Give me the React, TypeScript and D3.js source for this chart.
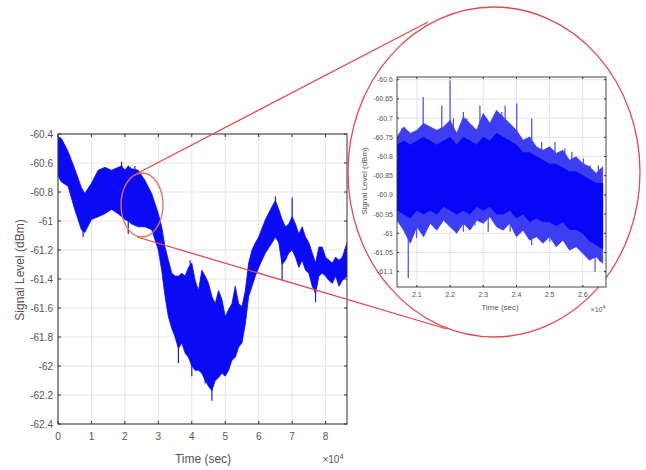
import React, { useRef, useEffect } from 'react';
import * as d3 from 'd3';

// main trace: time in units of 1e4 s, upper / lower envelope of the noisy signal (dBm)
const mainTime = [0, 0.1, 0.3, 0.5, 0.7, 0.8, 1.0, 1.2, 1.4, 1.6, 1.8, 1.9, 2.0, 2.1, 2.2, 2.4, 2.6, 2.8,
  3.0, 3.1, 3.2, 3.3, 3.4, 3.5, 3.6, 3.7, 3.8, 3.9, 4.0, 4.1, 4.2, 4.3, 4.4, 4.5, 4.6, 4.7, 4.8, 4.9,
  5.0, 5.1, 5.2, 5.3, 5.4, 5.5, 5.6, 5.7, 5.8, 5.9, 6.0, 6.2, 6.4, 6.5, 6.6, 6.7, 6.8, 6.9,
  7.0, 7.1, 7.2, 7.3, 7.4, 7.5, 7.6, 7.7, 7.8, 7.9, 8.0, 8.1, 8.2, 8.3, 8.4, 8.5, 8.64];
const mainHigh = [-60.42, -60.43, -60.52, -60.64, -60.77, -60.81, -60.74, -60.65, -60.63, -60.65, -60.63, -60.62, -60.65, -60.62, -60.64, -60.65, -60.72, -60.81,
  -60.95, -61.04, -61.18, -61.27, -61.36, -61.38, -61.38, -61.36, -61.38, -61.32, -61.29, -61.41, -61.48, -61.34, -61.38, -61.43, -61.52, -61.57, -61.48, -61.54,
  -61.66, -61.61, -61.57, -61.45, -61.57, -61.59, -61.48, -61.29, -61.2, -61.15, -61.11, -60.99, -60.9, -60.86, -60.92, -60.99, -61.04, -61.02,
  -60.97, -61.02, -61.09, -61.04, -61.11, -61.15, -61.22, -61.29, -61.18, -61.18, -61.25, -61.27, -61.29, -61.25, -61.27, -61.25, -61.15];
const mainLow = [-60.69, -60.73, -60.76, -60.92, -61.06, -61.08, -60.99, -60.97, -60.95, -60.92, -60.95, -60.97, -60.99, -61.0, -61.02, -61.04, -61.04, -61.06,
  -61.2, -61.34, -61.52, -61.66, -61.74, -61.8, -61.88, -61.84, -61.91, -61.94, -62.0, -62.03, -62.03, -62.05, -62.1, -62.14, -62.17, -62.1, -62.08, -62.05,
  -62.07, -62.03, -61.96, -61.94, -61.87, -61.84, -61.71, -61.52, -61.45, -61.38, -61.32, -61.22, -61.15, -61.11, -61.15, -61.3, -61.27, -61.22,
  -61.2, -61.25, -61.32, -61.27, -61.34, -61.36, -61.45, -61.5, -61.38, -61.36, -61.38, -61.41, -61.43, -61.38, -61.45, -61.41, -61.38];
// isolated excursions beyond the envelope [time, dBm]
const mainSpikes = [[0.75, -61.11], [1.9, -60.59], [2.1, -61.09], [2.3, -60.62], [3.6, -61.98], [3.95, -61.27],
  [4.0, -62.07], [4.4, -62.12], [4.6, -62.24], [6.5, -60.83], [6.7, -61.41], [7.0, -60.84], [7.7, -61.56]];
const mainXTicks = [0, 1, 2, 3, 4, 5, 6, 7, 8];
const mainYTicks = [-60.4, -60.6, -60.8, -61, -61.2, -61.4, -61.6, -61.8, -62, -62.2, -62.4];

// zoomed section 2.04e4 .. 2.66e4 s: outer (sparse) envelope and dense core
const zoomTime = [2.04, 2.06, 2.08, 2.1, 2.12, 2.14, 2.16, 2.18, 2.2, 2.22, 2.24, 2.26, 2.28, 2.3, 2.32, 2.34,
  2.36, 2.38, 2.4, 2.42, 2.44, 2.46, 2.48, 2.5, 2.52, 2.54, 2.56, 2.58, 2.6, 2.62, 2.64, 2.66];
const zoomHigh = [-60.749, -60.723, -60.74, -60.732, -60.714, -60.723, -60.732, -60.723, -60.706, -60.74, -60.697, -60.714, -60.732, -60.688, -60.714, -60.68,
  -60.697, -60.714, -60.732, -60.758, -60.749, -60.775, -60.784, -60.775, -60.792, -60.784, -60.81, -60.801, -60.818, -60.827, -60.844, -60.827];
const zoomLow = [-60.966, -60.992, -61.026, -60.983, -61.009, -60.974, -60.992, -60.966, -60.983, -61.0, -60.974, -60.992, -60.966, -60.974, -60.957, -60.983,
  -60.992, -60.974, -61.009, -60.992, -61.018, -61.009, -61.026, -61.009, -61.035, -61.018, -61.044, -61.035, -61.052, -61.07, -61.061, -61.078];
const zoomCoreHigh = [-60.77, -60.76, -60.77, -60.76, -60.75, -60.76, -60.77, -60.76, -60.75, -60.77, -60.75, -60.76, -60.77, -60.75, -60.76, -60.74,
  -60.75, -60.76, -60.77, -60.79, -60.79, -60.8, -60.81, -60.82, -60.82, -60.83, -60.84, -60.84, -60.85, -60.86, -60.87, -60.87];
const zoomCoreLow = [-60.94, -60.95, -60.96, -60.94, -60.95, -60.94, -60.95, -60.93, -60.94, -60.95, -60.94, -60.95, -60.93, -60.94, -60.93, -60.95,
  -60.95, -60.94, -60.96, -60.95, -60.97, -60.96, -60.97, -60.97, -60.98, -60.97, -60.99, -60.99, -61.0, -61.02, -61.03, -61.04];
const zoomSpikes = [
  [2.054, -60.727], [2.079, -60.749], [2.119, -60.645], [2.129, -60.719], [2.175, -60.667], [2.2, -60.602],
  [2.21, -60.701], [2.24, -60.684], [2.25, -60.701], [2.27, -60.727], [2.29, -60.667], [2.3, -60.693],
  [2.32, -60.719], [2.335, -60.701], [2.356, -60.684], [2.366, -60.667], [2.401, -60.662], [2.446, -60.701],
  [2.476, -60.762], [2.516, -60.762], [2.546, -60.779], [2.567, -60.788], [2.602, -60.805], [2.622, -60.823], [2.647, -60.823],
  [2.074, -61.117], [2.099, -61.013], [2.119, -60.979], [2.155, -60.97], [2.185, -60.961], [2.22, -60.996],
  [2.24, -60.996], [2.275, -60.979], [2.315, -60.996], [2.381, -60.996], [2.446, -61.031], [2.501, -61.022],
  [2.551, -61.022], [2.602, -61.039], [2.637, -61.1], [2.652, -61.074]];
const zoomXTicks = [2.1, 2.2, 2.3, 2.4, 2.5, 2.6];
const zoomYTicks = [-60.6, -60.65, -60.7, -60.75, -60.8, -60.85, -60.9, -60.95, -61, -61.05, -61.1];

const fmt = (v) => String(+v.toFixed(2));
const TEXT = '#555';

// one MATLAB-like panel: grid, trace band, spikes, box with inward ticks, labels
function drawPanel(svg, o) {
  const x = d3.scaleLinear().domain(o.xDomain).range([o.left, o.right]);
  const y = d3.scaleLinear().domain(o.yDomain).range([o.bottom, o.top]);
  const g = svg.append('g');

  g.append('rect').attr('x', o.left).attr('y', o.top)
    .attr('width', o.right - o.left).attr('height', o.bottom - o.top).attr('fill', '#fff');

  // grid
  g.selectAll('.gx').data(o.xTicks).enter().append('line')
    .attr('x1', d => x(d)).attr('x2', d => x(d)).attr('y1', o.top).attr('y2', o.bottom)
    .attr('stroke', '#dedede').attr('stroke-width', 0.8);
  g.selectAll('.gy').data(o.yTicks).enter().append('line')
    .attr('y1', d => y(d)).attr('y2', d => y(d)).attr('x1', o.left).attr('x2', o.right)
    .attr('stroke', '#dedede').attr('stroke-width', 0.8);

  const clipId = 'clip-' + o.id;
  svg.append('clipPath').attr('id', clipId).append('rect')
    .attr('x', o.left).attr('y', o.top).attr('width', o.right - o.left).attr('height', o.bottom - o.top);
  const data = g.append('g').attr('clip-path', `url(#${clipId})`);

  const rows = o.time.map((t, i) => ({ t, hi: o.high[i], lo: o.low[i] }));
  const area = d3.area().x(d => x(d.t)).y0(d => y(d.lo)).y1(d => y(d.hi));

  // spikes first so the band covers their roots
  const bis = d3.bisector(d => d.t).left;
  data.selectAll('.spike').data(o.spikes).enter().append('line')
    .attr('x1', d => x(d[0])).attr('x2', d => x(d[0]))
    .attr('y1', d => { const r = rows[Math.min(bis(rows, d[0]), rows.length - 1)]; return y((r.hi + r.lo) / 2); })
    .attr('y2', d => y(d[1]))
    .attr('stroke', o.spikeColor).attr('stroke-width', o.spikeW);

  data.append('path').attr('d', area(rows))
    .attr('fill', o.bandColor).attr('stroke', o.bandColor).attr('stroke-width', 0.8);

  if (o.coreHigh) {
    const core = o.time.map((t, i) => ({ t, hi: o.coreHigh[i], lo: o.coreLow[i] }));
    data.append('path').attr('d', area(core))
      .attr('fill', '#0606f6').attr('stroke', '#0606f6').attr('stroke-width', 0.8);
  }

  // box + inward ticks on all sides
  g.append('rect').attr('x', o.left).attr('y', o.top)
    .attr('width', o.right - o.left).attr('height', o.bottom - o.top)
    .attr('fill', 'none').attr('stroke', '#333').attr('stroke-width', o.boxW);
  const tl = o.tick;
  o.xTicks.forEach(v => {
    g.append('line').attr('x1', x(v)).attr('x2', x(v)).attr('y1', o.bottom).attr('y2', o.bottom - tl).attr('stroke', '#333');
    g.append('line').attr('x1', x(v)).attr('x2', x(v)).attr('y1', o.top).attr('y2', o.top + tl).attr('stroke', '#333');
  });
  o.yTicks.forEach(v => {
    g.append('line').attr('y1', y(v)).attr('y2', y(v)).attr('x1', o.left).attr('x2', o.left + tl).attr('stroke', '#333');
    g.append('line').attr('y1', y(v)).attr('y2', y(v)).attr('x1', o.right).attr('x2', o.right - tl).attr('stroke', '#333');
  });

  const font = '"Liberation Sans", Arial, sans-serif';
  g.selectAll('.xl').data(o.xTicks).enter().append('text')
    .attr('x', d => x(d)).attr('y', o.bottom + o.xLabGap).attr('text-anchor', 'middle')
    .attr('font-family', font).attr('font-size', o.tickFont).attr('fill', TEXT).text(d => fmt(d));
  g.selectAll('.yl').data(o.yTicks).enter().append('text')
    .attr('x', o.left - o.yLabGap).attr('y', d => y(d)).attr('dy', '0.35em').attr('text-anchor', 'end')
    .attr('font-family', font).attr('font-size', o.tickFont).attr('fill', TEXT).text(d => fmt(d));

  g.append('text').attr('x', o.xTitle[0]).attr('y', o.xTitle[1]).attr('text-anchor', 'middle')
    .attr('font-family', font).attr('font-size', o.titleFont).attr('fill', TEXT).text('Time (sec)');
  g.append('text').attr('transform', `translate(${o.yTitle[0]},${o.yTitle[1]}) rotate(-90)`).attr('text-anchor', 'middle')
    .attr('font-family', font).attr('font-size', o.titleFont).attr('fill', TEXT).text('Signal Level (dBm)');
  const ex = g.append('text').attr('x', o.expo[0]).attr('y', o.expo[1]).attr('text-anchor', 'middle')
    .attr('font-family', font).attr('font-size', o.tickFont).attr('fill', TEXT);
  ex.append('tspan').text('×10');
  ex.append('tspan').attr('dy', -o.tickFont * 0.4).attr('font-size', o.tickFont * 0.75).text('4');
}

const App = () => {
  const ref = useRef();

  useEffect(() => {
    const svg = d3.select(ref.current);
    svg.selectAll('*').remove();

    drawPanel(svg, {
      id: 'main', left: 58, right: 347, top: 134, bottom: 424,
      xDomain: [0, 8.64], yDomain: [-62.4, -60.4],
      time: mainTime, high: mainHigh, low: mainLow, spikes: mainSpikes,
      bandColor: '#0a0af5', spikeColor: '#1a1af0',
      xTicks: mainXTicks, yTicks: mainYTicks,
      tick: 3, boxW: 1, spikeW: 1.2, tickFont: 10, titleFont: 12,
      xLabGap: 16, yLabGap: 5, xTitle: [203, 463], yTitle: [24, 270], expo: [333, 463],
    });

    const cx = 494, cy = 172, rx = 146, ry = 165;
    // connector lines from the small marker to the magnified circle
    svg.append('line').attr('x1', 138).attr('y1', 173).attr('x2', 428).attr('y2', 22)
      .attr('stroke', '#e24a4f').attr('stroke-width', 1.3);
    svg.append('line').attr('x1', 137).attr('y1', 237).attr('x2', 447).attr('y2', 329)
      .attr('stroke', '#e24a4f').attr('stroke-width', 1.3);
    svg.append('ellipse').attr('cx', 142).attr('cy', 205).attr('rx', 21).attr('ry', 32)
      .attr('fill', 'none').attr('stroke', '#e0705a').attr('stroke-width', 1.3);
    svg.append('ellipse').attr('cx', cx).attr('cy', cy).attr('rx', rx).attr('ry', ry)
      .attr('fill', '#fff').attr('stroke', '#e24a4f').attr('stroke-width', 1.3);

    drawPanel(svg, {
      id: 'zoom', left: 397, right: 606, top: 77, bottom: 287,
      xDomain: [2.04, 2.67], yDomain: [-61.14, -60.593],
      time: zoomTime, high: zoomHigh, low: zoomLow, spikes: zoomSpikes,
      coreHigh: zoomCoreHigh, coreLow: zoomCoreLow,
      bandColor: '#3d3df2', spikeColor: '#5656ee',
      xTicks: zoomXTicks, yTicks: zoomYTicks,
      tick: 2, boxW: 0.9, spikeW: 1.3, tickFont: 7, titleFont: 8,
      xLabGap: 10, yLabGap: 4, xTitle: [500, 310], yTitle: [367, 181], expo: [598, 312],
    });
  }, []);

  return (
    <svg ref={ref} width="646" height="470"
      style={{ position: 'absolute', left: 0, top: 0, background: '#fff' }}></svg>
  );
};

export default App;
